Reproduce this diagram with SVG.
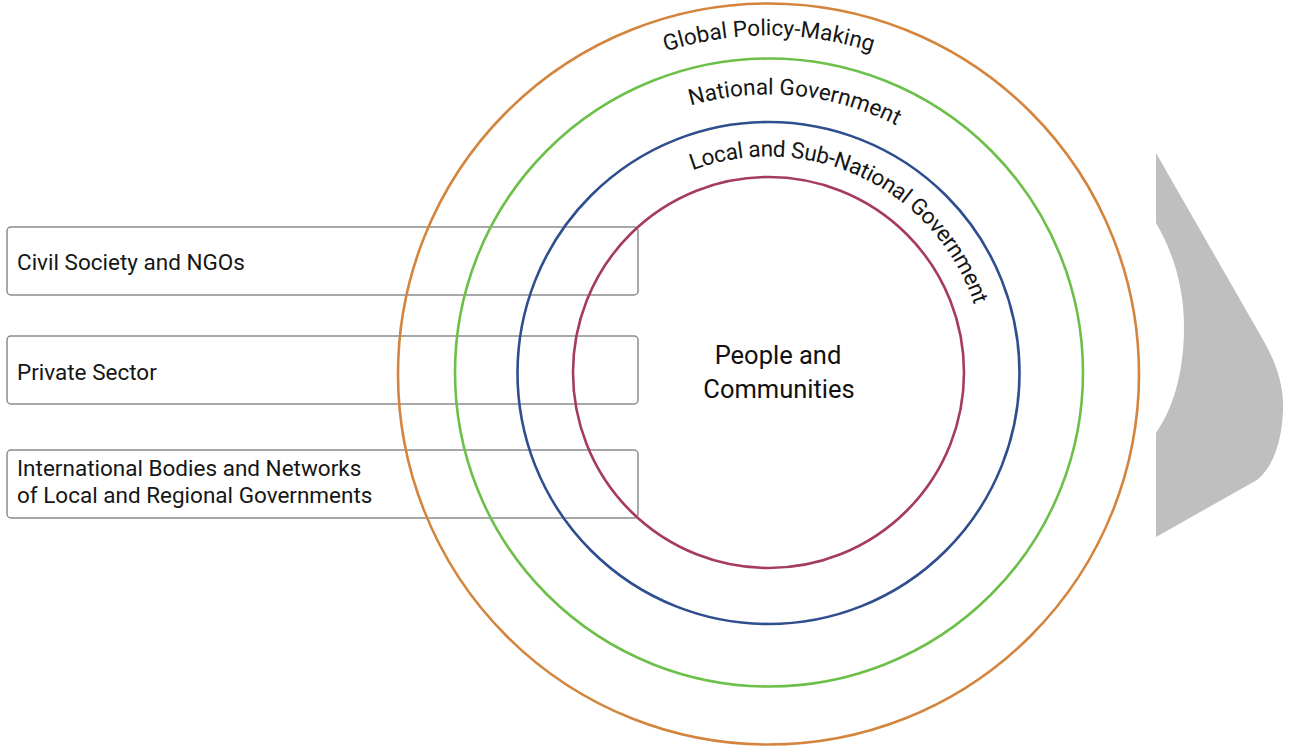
<svg xmlns="http://www.w3.org/2000/svg" width="1305" height="748" viewBox="0 0 1305 748">
<style>
.box{fill:#ffffff;stroke:#8c8c8c;stroke-width:1.5}
.lbl{font-family:Roboto,"Noto Sans",sans-serif;font-size:22.5px;fill:#161616}
.ring{fill:none;stroke-width:2.6}
.arc{font-family:Roboto,"Noto Sans",sans-serif;font-size:22.5px;fill:#161616}
.center{font-family:Roboto,"Noto Sans",sans-serif;font-size:25.5px;font-weight:400;fill:#111111}
</style>
<defs>
<path id="pGlobal" d="M430.5,373.5 A338,338 0 1 1 1106.5,373.5 A338,338 0 1 1 430.5,373.5"/>
<path id="pNational" d="M489.5,373.5 A279,279 0 1 1 1047.5,373.5 A279,279 0 1 1 489.5,373.5"/>
<path id="pLocal" d="M551.5,373.5 A217,217 0 1 1 985.5,373.5 A217,217 0 1 1 551.5,373.5"/>
</defs>
<rect width="1305" height="748" fill="#ffffff"/>
<path id="shape" d="M1156,153 L1262,338 C1276,362 1284,385 1283,410 C1282,440 1274,466 1257,480 L1156,537 L1156,433 C1172,410 1184,375 1184,327 C1184,285 1172,250 1156,223 Z" fill="#bfbfbf"/>
<g id="box-civil">
<rect class="box" x="7" y="227" width="631" height="68" rx="4"/>
<text class="lbl" x="17" y="270">Civil Society and NGOs</text>
</g>
<g id="box-private">
<rect class="box" x="7" y="336" width="631" height="68" rx="4"/>
<text class="lbl" x="17" y="380">Private Sector</text>
</g>
<g id="box-international">
<rect class="box" x="7" y="450" width="631" height="68" rx="4"/>
<text class="lbl" x="17" y="476">International Bodies and Networks</text>
<text class="lbl" x="17" y="503">of Local and Regional Governments</text>
</g>
<g id="ring-global">
<circle class="ring" cx="768.5" cy="374" r="370.5" stroke="#d4853d"/>
<text class="arc"><textPath href="#pGlobal" startOffset="426">Global Policy-Making</textPath></text>
</g>
<g id="ring-national">
<circle class="ring" cx="769" cy="372.5" r="314" stroke="#6cc04a"/>
<text class="arc"><textPath href="#pNational" startOffset="359">National Government</textPath></text>
</g>
<g id="ring-local">
<circle class="ring" cx="768.5" cy="373" r="251" stroke="#2e4e8e"/>
<text class="arc" letter-spacing="-0.35"><textPath href="#pLocal" startOffset="263">Local and Sub-National Government</textPath></text>
</g>
<g id="ring-people">
<circle class="ring" cx="768.5" cy="372.5" r="195.5" stroke="#a53c5c"/>
<text class="center" x="778" y="364" text-anchor="middle">People and</text>
<text class="center" x="779" y="398" text-anchor="middle">Communities</text>
</g>
</svg>
